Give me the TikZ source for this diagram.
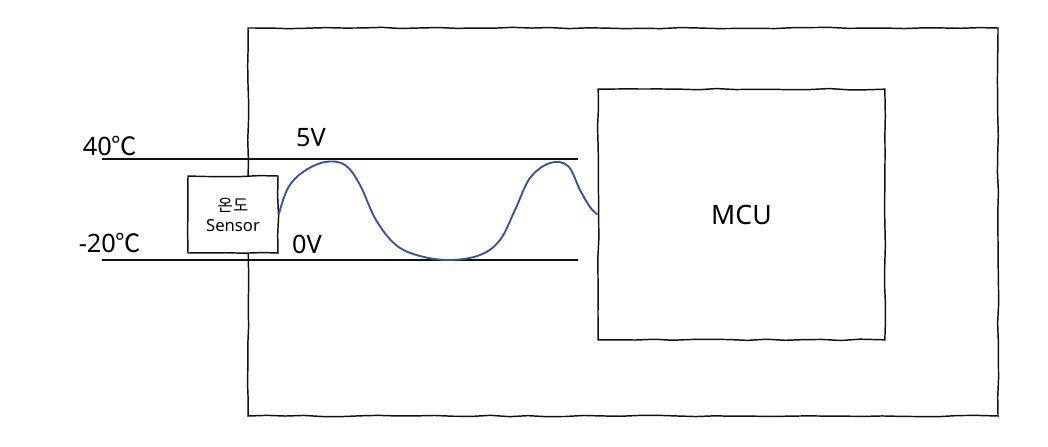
\documentclass[tikz,border=0pt]{standalone}
\usepackage{fontspec}
\setmainfont{Noto Sans}
\newfontfamily\kr{Noto Sans CJK KR}
\usepackage{tikz}
\usetikzlibrary{positioning,calc,decorations.pathmorphing}
\definecolor{wave}{HTML}{34559B}
\definecolor{ink}{HTML}{111111}
\tikzset{
  sketch/.style={draw=ink, line width=1.1pt, decorate,
    decoration={random steps, segment length=14pt, amplitude=0.5pt}},
  sensorbox/.style={sketch, minimum width=67.5pt, minimum height=57.75pt,
    align=center, inner sep=0pt, font=\fontsize{12.5}{15}\selectfont},
  mcubox/.style={sketch, minimum width=215pt, minimum height=188pt,
    font=\fontsize{20}{23}\selectfont},
  level/.style={draw=ink, line width=1.1pt},
  lbl/.style={font=\fontsize{19}{22}\selectfont, inner sep=0pt},
  signal/.style={draw=wave, line width=1.4pt}
}
\pgfmathsetseed{7}
\begin{document}
\begin{tikzpicture}[x=0.75pt,y=-0.75pt]
  \useasboundingbox (0,0) rectangle (1048,446);
  % board outline
  \draw[sketch] (248,28) rectangle (998,416);
  % voltage levels
  \coordinate (hiL) at (102,159);
  \coordinate (hiR) at (578,159);
  \coordinate (loL) at (102,260);
  \coordinate (loR) at (578,260);
  \draw[level] (hiL) -- (hiR);
  \draw[level] (loL) -- (loR);
  % blocks
  \node[sensorbox, fill=white] (sensor) at (233,214.5) {{\kr 온도}\\Sensor};
  \node[mcubox] (mcu) at (741.5,214.5) {MCU};
  % labels
  \node[lbl] (t40) at (110,146) {40{\kr ℃}};
  \node[lbl] (t20) at (110,243) {-20{\kr ℃}};
  \node[lbl] (v5) at (311,138) {5V};
  \node[lbl] (v0) at (307,244) {0V};
  % signal
  \draw[signal] plot[smooth, tension=0.6] coordinates {
    (sensor.east) (288,188) (303,172) (325,162) (345,165) (360,185)
    (376,220) (396,245) (420,256) (450,260) (480,255) (500,240)
    (515,210) (530,178) (550,163) (568,166) (580,190) (590,207) (mcu.west)};
\end{tikzpicture}
\end{document}
